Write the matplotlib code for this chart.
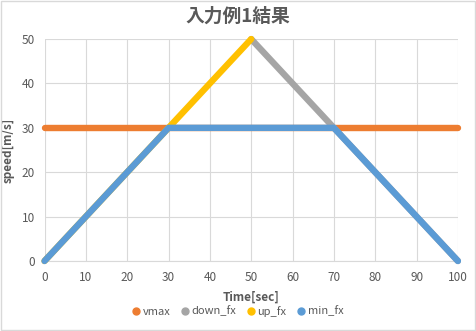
import numpy as np
import matplotlib.pyplot as plt
from matplotlib.patches import Rectangle

plt.rcParams['font.family'] = ['Noto Sans CJK JP', 'DejaVu Sans']

# series (vertices of each line, Time[sec] vs speed[m/s])
vmax_x = [0, 100]
vmax_y = [30, 30]
down_x = [50, 100]
down_y = [50, 0]
up_x = [0, 50]
up_y = [0, 50]
min_x = [0, 30, 70, 100]
min_y = [0, 30, 30, 0]

names = ['vmax', 'down_fx', 'up_fx', 'min_fx']
colors = ['#ED7D31', '#A5A5A5', '#FFC000', '#5B9BD5']
txt = '#595959'

fig = plt.figure(figsize=(4.76, 3.31), dpi=100)
fig.add_artist(Rectangle((0.002, 0.003), 0.996, 0.994, transform=fig.transFigure,
                         fill=False, edgecolor='#D9D9D9', linewidth=1))
ax = fig.add_axes([0.0935, 0.2115, 0.8685, 0.6705])

series = [(vmax_x, vmax_y), (down_x, down_y), (up_x, up_y), (min_x, min_y)]
for (xs, ys), c, n in zip(series, colors, names):
    ax.plot(xs, ys, color=c, lw=4.6, solid_capstyle='round',
            solid_joinstyle='round', clip_on=False, zorder=3)
    ax.plot([], [], 'o', color=c, markersize=5, label=n)

ax.set_xlim(0, 100)
ax.set_ylim(0, 50)
ax.set_xticks(np.arange(0, 101, 10))
ax.set_yticks(np.arange(0, 51, 10))
ax.grid(color='#D9D9D9', linewidth=0.8)
ax.set_axisbelow(True)
for s in ax.spines.values():
    s.set_visible(False)
ax.spines['bottom'].set_visible(True)
ax.spines['bottom'].set_color('#D9D9D9')
ax.tick_params(length=0, labelsize=8.5, labelcolor=txt, pad=7)

ax.set_xlabel('Time[sec]', fontsize=8.5, fontweight='bold', color=txt, labelpad=5)
ax.set_ylabel('speed[m/s]', fontsize=8.5, fontweight='bold', color=txt, labelpad=5)
fig.suptitle('入力例1結果', x=0.5, y=0.98, fontsize=13.5, fontweight='bold', color=txt)

fig.legend(loc='center', bbox_to_anchor=(0.5, 0.06), ncol=4, frameon=False,
           fontsize=8, labelcolor=txt, handlelength=0.6, handletextpad=0.3,
           columnspacing=1.0)

fig.savefig('out.png', dpi=100)
